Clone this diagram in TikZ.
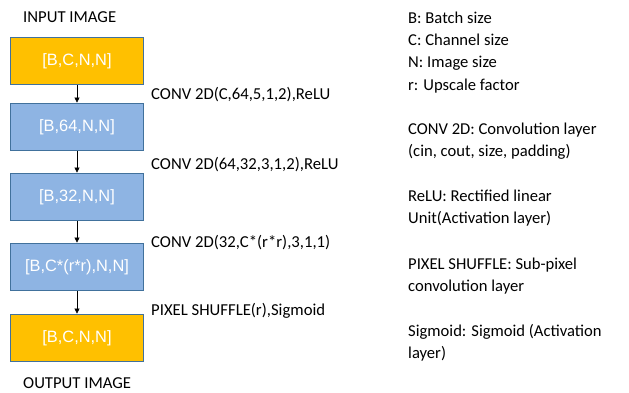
\documentclass[tikz,border=0pt]{standalone}
\usepackage{fontspec}
\setmainfont{Carlito}
\newfontfamily\boxfont{Liberation Sans}
\usetikzlibrary{arrows.meta}
\definecolor{boxorange}{HTML}{FFC000}
\definecolor{boxblue}{HTML}{8EB4E3}
\definecolor{boxedge}{HTML}{41719C}
\begin{document}
\begin{tikzpicture}[x=1pt,y=-1pt,
  layer/.style={draw=boxedge,line width=1.8pt,minimum width=133pt,minimum height=47pt,inner sep=0pt,text=white,font=\boxfont\fontsize{16.4}{19}\selectfont},
  inbox/.style={layer,fill=boxorange},
  midbox/.style={layer,fill=boxblue},
  lbl/.style={anchor=base west,inner sep=0pt,font=\fontsize{16.7}{20}\selectfont},
  legend/.style={anchor=base west,inner sep=0pt,font=\fontsize{16.6}{20}\selectfont},
  conn/.style={-{Triangle[length=5pt,width=5pt]},line width=0.6pt}]
\useasboundingbox (0,0) rectangle (629,392);
\node[inbox] (b1) at (77,61) {[B,C,N,N]};
\node[midbox] (b2) at (77,127) {[B,64,N,N]};
\node[midbox] (b3) at (77,197) {[B,32,N,N]};
\node[midbox] (b4) at (77,267) {[B,C*(r*r),N,N]};
\node[inbox] (b5) at (77,338) {[B,C,N,N]};
\node[lbl] (tin) at (23,22) {INPUT IMAGE};
\node[lbl] (tout) at (23,388) {OUTPUT IMAGE};
\draw[conn] (b1) -- (b2);
\draw[conn] (b2) -- (b3);
\draw[conn] (b3) -- (b4);
\draw[conn] (b4) -- (b5);
\node[lbl] (l1) at (151,99) {CONV 2D(C,64,5,1,2),ReLU};
\node[lbl] (l2) at (151,169) {CONV 2D(64,32,3,1,2),ReLU};
\node[lbl] (l3) at (151,247) {CONV 2D(32,C*(r*r),3,1,1)};
\node[lbl] (l4) at (151,315) {PIXEL SHUFFLE(r),Sigmoid};
\node[legend] (g1a) at (408,23) {B: Batch size};
\node[legend] (g1b) at (408,45.3) {C: Channel size};
\node[legend] (g1c) at (408,67.6) {N: Image size};
\node[legend] (g1d) at (408,90) {r: Upscale factor};
\node[legend] (g2a) at (408,134) {CONV 2D: Convolution layer};
\node[legend] (g2b) at (408,156.3) {(cin, cout, size, padding)};
\node[legend] (g3a) at (408,201.5) {ReLU: Rectified linear};
\node[legend] (g3b) at (408,223.8) {Unit(Activation layer)};
\node[legend] (g4a) at (408,269) {PIXEL SHUFFLE: Sub-pixel};
\node[legend] (g4b) at (408,291.3) {convolution layer};
\node[legend] (g5a) at (408,336.5) {Sigmoid: Sigmoid (Activation};
\node[legend] (g5b) at (408,358.8) {layer)};
\end{tikzpicture}
\end{document}
